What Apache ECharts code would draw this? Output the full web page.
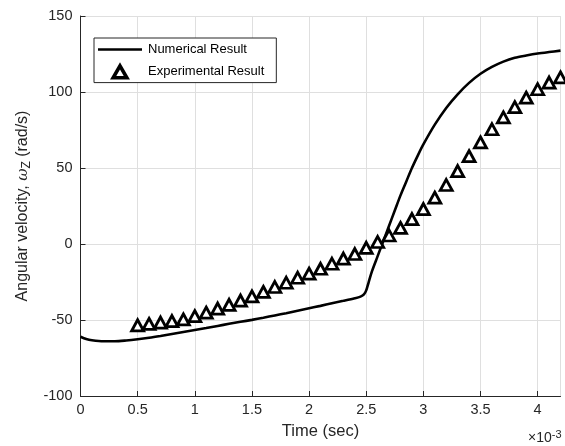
<!DOCTYPE html>
<html>
<head>
<meta charset="utf-8">
<script src="https://cdn.jsdelivr.net/npm/echarts@6/dist/echarts.min.js"></script>
<style>html,body{margin:0;padding:0;background:#fff}#c{width:565px;height:446px}</style>
</head>
<body>
<div id="c"></div>
<script>
// Time in units of 1e-3 s
const numTime = [0, 0.05, 0.1, 0.2, 0.3, 0.4, 0.5, 0.6, 0.7, 0.8, 0.9, 1.0, 1.1, 1.2, 1.3, 1.4, 1.5, 1.6, 1.7, 1.8, 1.9, 2.0, 2.1, 2.2, 2.3, 2.4, 2.45, 2.48, 2.5, 2.52, 2.55, 2.6, 2.65, 2.7, 2.75, 2.8, 2.85, 2.9, 2.95, 3.0, 3.1, 3.2, 3.3, 3.4, 3.5, 3.6, 3.7, 3.8, 3.9, 4.0, 4.1, 4.2];
const numOmega = [-61, -62.5, -63.3, -64, -64, -63.5, -62.7, -61.7, -60.5, -59.2, -57.9, -56.6, -55.3, -53.9, -52.5, -51.2, -49.9, -48.5, -47, -45.5, -43.9, -42.3, -40.7, -39, -37.4, -35.7, -34.6, -33.2, -30.5, -25.5, -18, -8, 2, 12, 22, 32, 41, 50, 58, 65.5, 78.5, 89.5, 98.5, 106, 112, 116.5, 120, 122.5, 124, 125.3, 126.3, 127.2];
const expTime = [0.5, 0.6, 0.7, 0.8, 0.9, 1.0, 1.1, 1.2, 1.3, 1.4, 1.5, 1.6, 1.7, 1.8, 1.9, 2.0, 2.1, 2.2, 2.3, 2.4, 2.5, 2.6, 2.7, 2.8, 2.9, 3.0, 3.1, 3.2, 3.3, 3.4, 3.5, 3.6, 3.7, 3.8, 3.9, 4.0, 4.1, 4.2];
const expOmega = [-53.5, -52.6, -51.7, -50.7, -49.6, -47.5, -45.2, -42.5, -40, -37.2, -34.5, -31.5, -28.3, -25.5, -22.2, -19.5, -16.3, -13, -9.6, -6.6, -2.5, 1.3, 5.6, 10.6, 16.4, 23, 30.5, 38.8, 48, 57.8, 66.8, 75.5, 83.3, 90, 96.3, 101.8, 106.2, 109.6];
const seriesNames = ['Numerical Result', 'Experimental Result'];
const xLabel = 'Time (sec)';
const yLabel = 'Angular velocity, {w|ω}{sub|Z} (rad/s)';

const FONT = 'Liberation Sans, Arial, sans-serif';
const TXT = '#262626';
const chart = echarts.init(document.getElementById('c'), null, {renderer: 'canvas'});
chart.setOption({
  animation: false,
  backgroundColor: '#fff',
  textStyle: {fontFamily: FONT, color: TXT},
  grid: {left: 80.5, right: 4.5, top: 16, bottom: 50, containLabel: false},
  legend: {
    orient: 'vertical', left: 94, top: 38,
    backgroundColor: '#fff', borderColor: '#262626', borderWidth: 1,
    padding: [5, 12, 3, 4], itemGap: 8, itemWidth: 44, itemHeight: 12,
    symbolKeepAspect: true,
    textStyle: {fontFamily: FONT, fontSize: 13, color: '#000', padding: [0, 0, 0, 1]},
    data: [
      {name: seriesNames[0], icon: 'path://M0,0 L44,0 L44,2.6 L0,2.6 Z'},
      {name: seriesNames[1], icon: 'path://M6,0 L12,10.5 L0,10.5 Z',
       itemStyle: {color: '#fff', borderColor: '#000', borderWidth: 3.6}}
    ]
  },
  xAxis: {
    type: 'value', min: 0, max: 4.2, interval: 0.5,
    name: xLabel, nameLocation: 'middle', nameGap: 27,
    nameTextStyle: {fontFamily: FONT, fontSize: 16.5, color: TXT},
    axisLine: {show: true, onZero: false, lineStyle: {color: TXT, width: 1}},
    axisTick: {show: true, inside: true, length: 5, lineStyle: {color: TXT}},
    axisLabel: {fontFamily: FONT, fontSize: 14.5, color: TXT, margin: 6, showMaxLabel: false,
      formatter: v => (Math.abs(v * 2 - Math.round(v * 2)) < 1e-6 ? String(v) : '')},
    splitLine: {show: true, lineStyle: {color: '#dfdfdf', width: 1}}
  },
  yAxis: {
    type: 'value', min: -100, max: 150, interval: 50,
    name: yLabel, nameLocation: 'middle', nameGap: 46,
    nameTextStyle: {fontFamily: FONT, fontSize: 16, color: TXT,
      rich: {
        w: {fontFamily: 'DejaVu Serif, serif', fontStyle: 'italic', fontSize: 15, color: TXT},
        sub: {fontFamily: FONT, fontSize: 12, color: TXT, verticalAlign: 'bottom', padding: [7, 0, 0, 0]}
      }},
    axisLine: {show: true, onZero: false, lineStyle: {color: TXT, width: 1}},
    axisTick: {show: true, inside: true, length: 5, lineStyle: {color: TXT}},
    axisLabel: {fontFamily: FONT, fontSize: 14.5, color: TXT, margin: 8},
    splitLine: {show: true, lineStyle: {color: '#dfdfdf', width: 1}}
  },
  series: [
    {
      name: seriesNames[0], type: 'line', symbol: 'none', smooth: 0.3,
      data: numTime.map((t, i) => [t, numOmega[i]]),
      lineStyle: {color: '#000', width: 2.6},
      itemStyle: {color: '#000'}, z: 2
    },
    {
      name: seriesNames[1], type: 'scatter', symbol: 'triangle', symbolSize: [12, 11],
      data: expTime.map((t, i) => [t, expOmega[i]]),
      itemStyle: {color: '#fff', borderColor: '#000', borderWidth: 2.8, opacity: 1}, z: 3
    }
  ],
  graphic: [{
    type: 'text', left: 528, top: 429,
    style: {text: '×10{sup|-3}', font: '14px ' + FONT, fill: TXT,
      rich: {sup: {fontSize: 11, fontFamily: FONT, fill: TXT, verticalAlign: 'top', padding: [0, 0, 8, 0]}}}
  }]
});
</script>
</body>
</html>
